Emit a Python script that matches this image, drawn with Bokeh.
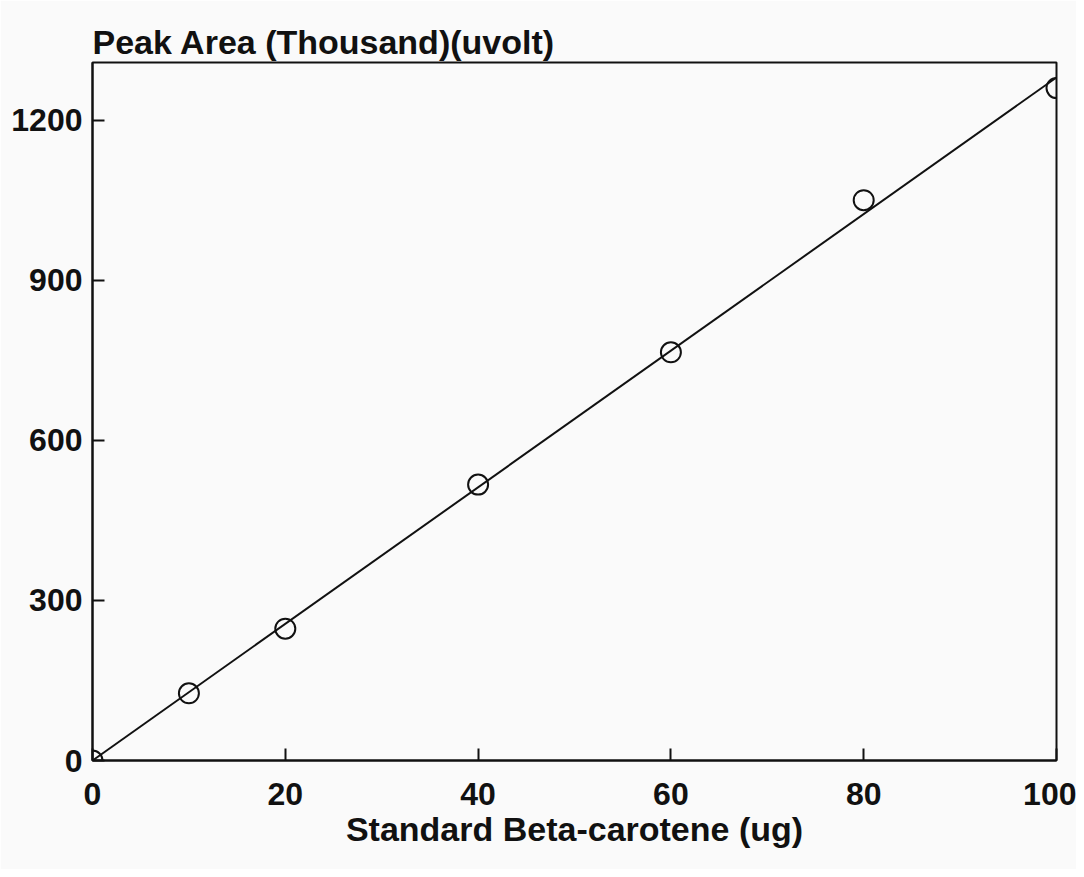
from bokeh.plotting import figure
from bokeh.models import FixedTicker, Range1d
from bokeh.embed import file_html
from bokeh.resources import INLINE

# Data
beta_carotene_ug = [0, 10, 20, 40, 60, 80, 100]
peak_area_thousand = [0, 126, 247, 517, 765, 1050, 1260]
fit_x = [0, 100]
fit_y = [0, 1280]
x_ticks = [0, 20, 40, 60, 80, 100]
y_ticks = [0, 300, 600, 900, 1200]

FONT = "Liberation Sans"
INK = "#111111"

p = figure(width=1076, height=869, output_backend="svg", toolbar_location=None,
           x_range=Range1d(0, 100), y_range=Range1d(0, 1308),
           min_border_left=92, min_border_right=20, min_border_top=62, min_border_bottom=109,
           background_fill_color="#fafafa", border_fill_color="#fafafa",
           title="Peak Area (Thousand)(uvolt)")

p.title.text_font = FONT
p.title.text_font_size = "34px"
p.title.text_font_style = "bold"
p.title.text_color = INK
p.title.align = "left"
p.title.offset = 0
p.title.standoff = 4

p.grid.visible = False
p.outline_line_color = INK
p.outline_line_width = 2

for ax in (p.xaxis[0], p.yaxis[0]):
    ax.axis_line_color = INK
    ax.axis_line_width = 2
    ax.major_tick_in = 12
    ax.major_tick_out = 0
    ax.major_tick_line_color = INK
    ax.major_tick_line_width = 2
    ax.minor_tick_line_color = None
    ax.major_label_text_font = FONT
    ax.major_label_text_font_size = "32px"
    ax.major_label_text_font_style = "bold"
    ax.major_label_text_color = INK

p.xaxis.ticker = FixedTicker(ticks=x_ticks)
p.yaxis.ticker = FixedTicker(ticks=y_ticks)
p.xaxis.major_label_standoff = 22
p.yaxis.major_label_standoff = 10

p.xaxis.axis_label = "Standard Beta-carotene (ug)"
p.xaxis.axis_label_text_font = FONT
p.xaxis.axis_label_text_font_size = "34px"
p.xaxis.axis_label_text_font_style = "bold"
p.xaxis.axis_label_text_color = INK
p.xaxis.axis_label_standoff = 2

p.line(fit_x, fit_y, line_color=INK, line_width=2)
p.scatter(beta_carotene_ug, peak_area_thousand, marker="circle", size=20,
          fill_color=None, line_color=INK, line_width=2)

open("out.html", "w").write(file_html(p, INLINE))
